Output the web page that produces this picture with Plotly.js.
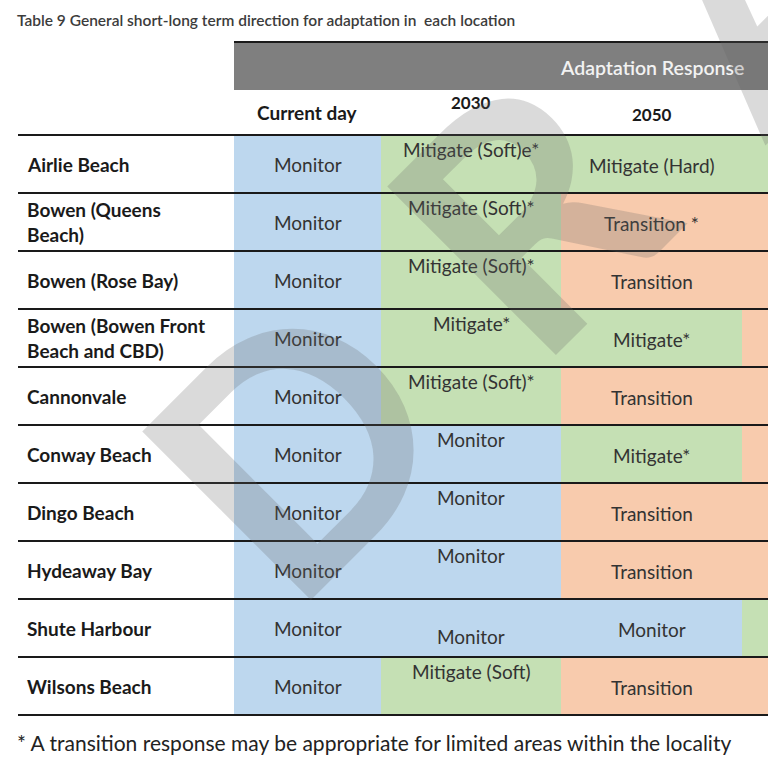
<!DOCTYPE html>
<html><head><meta charset="utf-8">
<script src="https://cdn.plot.ly/plotly-3.0.1.min.js"></script>
<style>html,body{margin:0;padding:0;background:#fff;}#chart{width:768px;height:768px;}</style>
</head><body><div id="chart"></div>
<script>
// ---------- data ----------
const tableTitle = "Table 9 General short-long term direction for adaptation in  each location";
const groupHeader = "Adaptation Response";
const columnHeaders = ["Current day", "2030", "2050"];
const locations = ["Airlie Beach", "Bowen (Queens<br>Beach)", "Bowen (Rose Bay)", "Bowen (Bowen Front<br>Beach and CBD)", "Cannonvale", "Conway Beach", "Dingo Beach", "Hydeaway Bay", "Shute Harbour", "Wilsons Beach"];
const currentDay = ["Monitor", "Monitor", "Monitor", "Monitor", "Monitor", "Monitor", "Monitor", "Monitor", "Monitor", "Monitor"];
const response2030 = ["Mitigate (Soft)e*", "Mitigate (Soft)*", "Mitigate (Soft)*", "Mitigate*", "Mitigate (Soft)*", "Monitor", "Monitor", "Monitor", "Monitor", "Mitigate (Soft)"];
const response2050 = ["Mitigate (Hard)", "Transition *", "Transition", "Mitigate*", "Transition", "Mitigate*", "Transition", "Transition", "Monitor", "Transition"];
const nextColumnType = ["Mitigate", "Transition", "Transition", "Transition", "Transition", "Transition", "Transition", "Transition", "Mitigate", "Transition"];
const footnote = "* A transition response may be appropriate for limited areas within the locality";
const watermark = "DRAFT";

// ---------- layout / style ----------
const colEdges = [234, 381, 561, 742, 960];
const rowTop = 135, rowH = 58;
const nRows = locations.length;
const rowEdges = [];
for (let i = 0; i <= nRows; i++) rowEdges.push(rowTop + i * rowH);
const rowCenter = i => rowTop + (i + 0.5) * rowH;
const colCenter = j => (colEdges[j] + colEdges[j + 1]) / 2;
// vertical placement of text per 2030 cell (style only)
const pos2030 = ["top", "top", "top", "top", "top", "top", "top", "top", "low", "top"];

const FONT = "Lato, 'Open Sans', sans-serif";
const BLUE = "#bdd7ee", GREEN = "#c5e0b4", SALMON = "#f8cbad";

function code(t) {
  if (t.startsWith("Mitigate")) return 1;
  if (t.startsWith("Transition")) return 2;
  return 0;
}

const z = [];
for (let i = 0; i < nRows; i++) {
  z.push([code(currentDay[i]), code(response2030[i]), code(response2050[i]), code(nextColumnType[i])]);
}

const heat = {
  type: "heatmap",
  x: colEdges,
  y: rowEdges,
  z: z,
  zmin: 0, zmax: 2,
  colorscale: [[0, BLUE], [0.5, GREEN], [1, SALMON]],
  showscale: false,
  hoverinfo: "skip",
  xgap: 0, ygap: 0
};

const ann = [];
const cellFont = {family: FONT, size: 19, color: "#333"};
// title
ann.push({x: 15, y: 20, text: tableTitle, showarrow: false, xanchor: "left", yanchor: "middle",
  font: {family: FONT, size: 15.5, color: "#3c3c3c", weight: 600}});
// group header
ann.push({x: 652, y: 67, text: groupHeader, showarrow: false, xanchor: "center", yanchor: "middle",
  font: {family: FONT, size: 19.5, color: "#f2f2f2", weight: 600}});
// column headers
ann.push({x: colCenter(0), y: 112, text: columnHeaders[0], showarrow: false, xanchor: "center", yanchor: "middle",
  font: {family: FONT, size: 19, color: "#1a1a1a", weight: 700}});
ann.push({x: colCenter(1), y: 102, text: columnHeaders[1], showarrow: false, xanchor: "center", yanchor: "middle",
  font: {family: FONT, size: 17, color: "#1a1a1a", weight: 700}});
ann.push({x: colCenter(2), y: 114, text: columnHeaders[2], showarrow: false, xanchor: "center", yanchor: "middle",
  font: {family: FONT, size: 17, color: "#1a1a1a", weight: 700}});

for (let i = 0; i < nRows; i++) {
  const top = rowEdges[i];
  ann.push({x: 25, y: rowCenter(i), text: locations[i], showarrow: false, xanchor: "left", yanchor: "middle", align: "left",
    font: {family: FONT, size: 19, color: "#1a1a1a", weight: 700}});
  ann.push({x: colCenter(0), y: rowCenter(i), text: currentDay[i], showarrow: false, xanchor: "center", yanchor: "middle", font: cellFont});
  ann.push({x: colCenter(1), y: pos2030[i] === "top" ? top + 14 : top + 37, text: response2030[i], showarrow: false, xanchor: "center", yanchor: "middle", font: cellFont});
  ann.push({x: colCenter(2), y: rowCenter(i) + 1, text: response2050[i], showarrow: false, xanchor: "center", yanchor: "middle", font: cellFont});
}
// footnote
ann.push({x: 15, y: 742, text: footnote, showarrow: false, xanchor: "left", yanchor: "middle",
  font: {family: FONT, size: 21, color: "#222"}});

// watermark letters along a diagonal (paper refs so off-canvas letters still draw)
const wmStart = [290, 440], wmStep = [233, -233];
watermark.split("").forEach((ch, k) => {
  const px = wmStart[0] + k * wmStep[0], py = wmStart[1] + k * wmStep[1];
  ann.push({xref: "paper", yref: "paper", x: px / 768, y: 1 - py / 768, text: ch, showarrow: false,
    xanchor: "center", yanchor: "middle", textangle: -45,
    font: {family: FONT, size: 330, color: "rgba(100,100,100,0.24)", weight: 700}});
});

const shapes = [];
// header grey bar
shapes.push({type: "rect", xref: "x", yref: "y", x0: colEdges[0], x1: 768, y0: 42, y1: 90, fillcolor: "#7f7f7f", line: {width: 0}, layer: "below"});
shapes.push({type: "line", xref: "x", yref: "y", x0: colEdges[0], x1: 768, y0: 42, y1: 42, line: {color: "#1a1a1a", width: 2}});
for (const ry of rowEdges) {
  shapes.push({type: "line", xref: "x", yref: "y", x0: 18, x1: 768, y0: ry, y1: ry, line: {color: "#1a1a1a", width: 2}, layer: "above"});
}

const layout = {
  width: 768, height: 768,
  margin: {l: 0, r: 0, t: 0, b: 0, pad: 0},
  paper_bgcolor: "#fff", plot_bgcolor: "#fff",
  xaxis: {range: [0, 768], visible: false, fixedrange: true},
  yaxis: {range: [768, 0], visible: false, fixedrange: true},
  showlegend: false,
  annotations: ann,
  shapes: shapes
};

Plotly.newPlot("chart", [heat], layout, {staticPlot: true, displayModeBar: false});
</script>
</body></html>
